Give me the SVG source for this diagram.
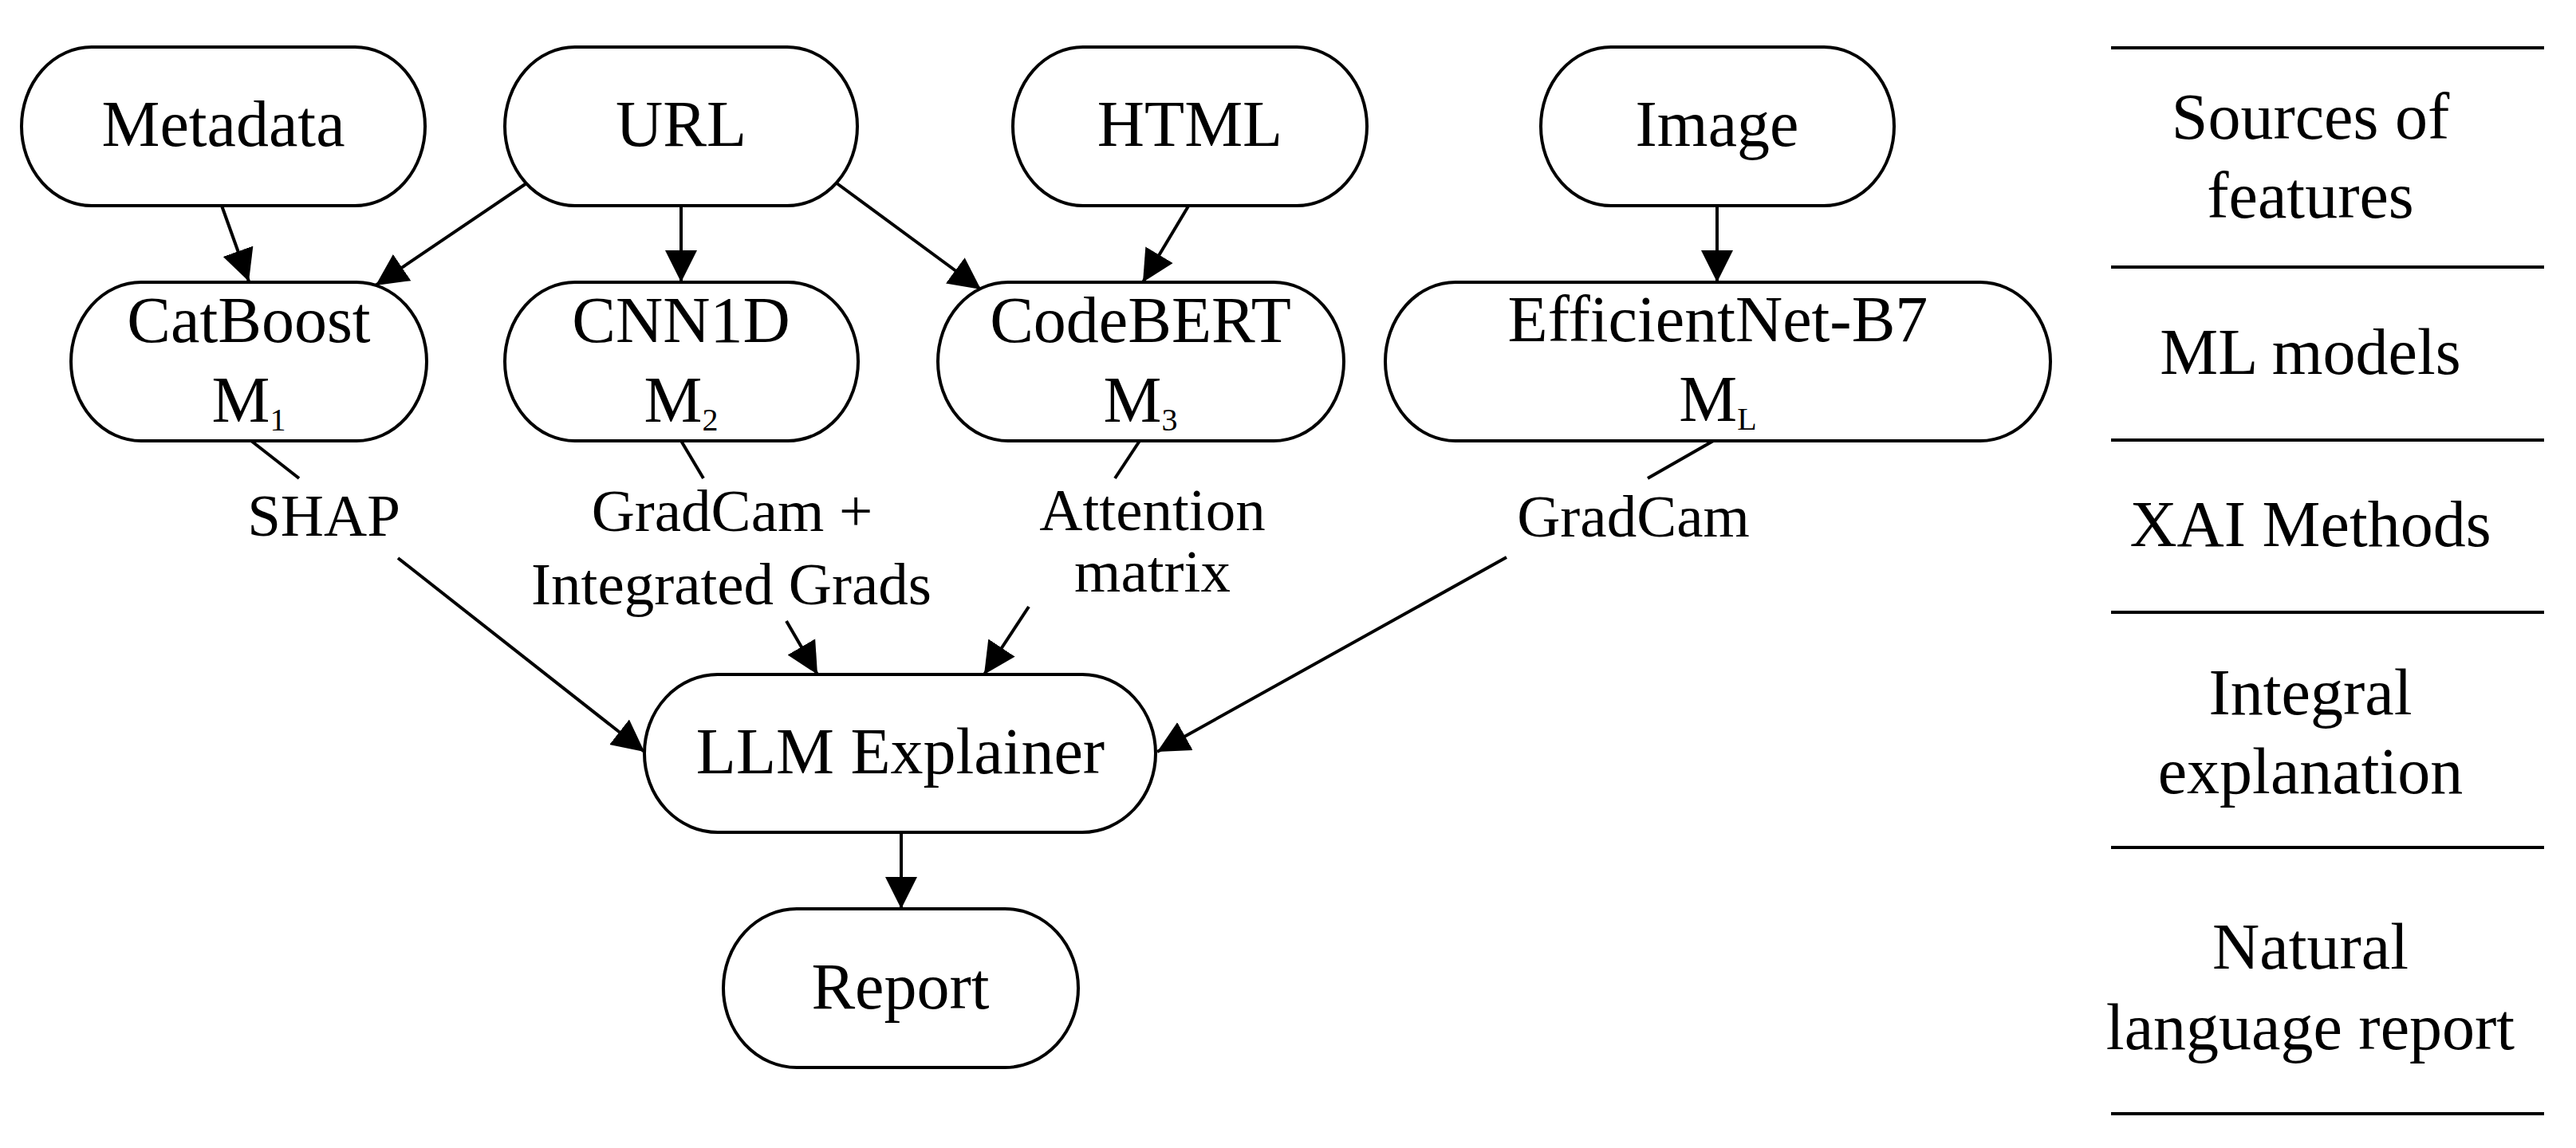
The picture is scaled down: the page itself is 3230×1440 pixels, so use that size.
<svg xmlns="http://www.w3.org/2000/svg" width="3230" height="1440" viewBox="0 0 3230 1440">
<style>
  .node { fill: #ffffff; stroke: #000000; stroke-width: 4; }
  .t { font-family: "Liberation Serif", "Times New Roman", serif; font-size: 82px; fill: #000000; text-anchor: middle; }
  .lbl { font-family: "Liberation Serif", "Times New Roman", serif; font-size: 75px; fill: #000000; text-anchor: middle; }
  .sub { font-size: 40px; }
  .edge { fill: none; stroke: #000000; stroke-width: 4; }
  .rule { stroke: #000000; stroke-width: 4; }
</style>
<defs>
  <marker id="arrow" markerUnits="userSpaceOnUse" markerWidth="44" markerHeight="44" refX="40" refY="20" orient="auto" viewBox="0 0 44 40">
    <path d="M0,0 L40,20 L0,40 z" fill="#000000"/>
  </marker>
</defs>
<rect x="0" y="0" width="3230" height="1440" fill="#ffffff"/>

<g id="connectors">
  <line class="edge" x1="278" y1="258" x2="312" y2="353" marker-end="url(#arrow)"/>
  <line class="edge" x1="660" y1="230" x2="471" y2="358" marker-end="url(#arrow)"/>
  <line class="edge" x1="854" y1="257" x2="854" y2="354" marker-end="url(#arrow)"/>
  <line class="edge" x1="1048" y1="229" x2="1230" y2="363" marker-end="url(#arrow)"/>
  <line class="edge" x1="1491" y1="257" x2="1433" y2="354" marker-end="url(#arrow)"/>
  <line class="edge" x1="2153" y1="257" x2="2153" y2="354" marker-end="url(#arrow)"/>
  <line class="edge" x1="315" y1="553" x2="375" y2="600"/>
  <line class="edge" x1="499" y1="700" x2="808" y2="943" marker-end="url(#arrow)"/>
  <line class="edge" x1="854" y1="553" x2="882" y2="600"/>
  <line class="edge" x1="986" y1="779" x2="1025" y2="846" marker-end="url(#arrow)"/>
  <line class="edge" x1="1429" y1="553" x2="1398" y2="600"/>
  <line class="edge" x1="1290" y1="761" x2="1234" y2="846" marker-end="url(#arrow)"/>
  <line class="edge" x1="2150" y1="552" x2="2066" y2="600"/>
  <line class="edge" x1="1889" y1="699" x2="1451" y2="943" marker-end="url(#arrow)"/>
  <line class="edge" x1="1130" y1="1044" x2="1130" y2="1140" marker-end="url(#arrow)"/>
  <text class="lbl" x="406" y="672">SHAP</text>
  <text class="lbl" x="918" y="666">GradCam +</text>
  <text class="lbl" x="917" y="758">Integrated Grads</text>
  <text class="lbl" x="1445" y="665">Attention</text>
  <text class="lbl" x="1445" y="742">matrix</text>
  <text class="lbl" x="2048" y="673">GradCam</text>
</g>

<g id="metadata">
  <rect class="node" x="27" y="59" width="506" height="199" rx="88" ry="99.5"/>
  <text class="t" x="280" y="183">Metadata</text>
</g>
<g id="url">
  <rect class="node" x="633" y="59" width="442" height="199" rx="88" ry="99.5"/>
  <text class="t" x="854" y="183">URL</text>
</g>
<g id="html">
  <rect class="node" x="1270" y="59" width="444" height="199" rx="88" ry="99.5"/>
  <text class="t" x="1492" y="183">HTML</text>
</g>
<g id="image">
  <rect class="node" x="1932" y="59" width="443" height="199" rx="88" ry="99.5"/>
  <text class="t" x="2153" y="183">Image</text>
</g>

<g id="catboost">
  <rect class="node" x="89" y="354" width="446" height="199" rx="88" ry="99.5"/>
  <text class="t" x="312" y="429">CatBoost</text>
  <text class="t" x="312" y="529">M<tspan class="sub" dy="11">1</tspan></text>
</g>
<g id="cnn1d">
  <rect class="node" x="633" y="354" width="443" height="199" rx="88" ry="99.5"/>
  <text class="t" x="854" y="429">CNN1D</text>
  <text class="t" x="854" y="529">M<tspan class="sub" dy="11">2</tspan></text>
</g>
<g id="codebert">
  <rect class="node" x="1176" y="354" width="509" height="199" rx="88" ry="99.5"/>
  <text class="t" x="1430" y="429">CodeBERT</text>
  <text class="t" x="1430" y="529">M<tspan class="sub" dy="11">3</tspan></text>
</g>
<g id="efficientnet">
  <rect class="node" x="1737" y="354" width="834" height="199" rx="88" ry="99.5"/>
  <text class="t" x="2154" y="428">EfficientNet-B7</text>
  <text class="t" x="2154" y="528">M<tspan class="sub" dy="11">L</tspan></text>
</g>

<g id="llm-explainer">
  <rect class="node" x="808" y="846" width="641" height="198" rx="92" ry="99"/>
  <text class="t" x="1129" y="970">LLM Explainer</text>
</g>
<g id="report">
  <rect class="node" x="907" y="1140" width="445" height="199" rx="92" ry="99.5"/>
  <text class="t" x="1129" y="1265">Report</text>
</g>

<g id="legend">
  <line class="rule" x1="2647" y1="60" x2="3190" y2="60"/>
  <line class="rule" x1="2647" y1="335" x2="3190" y2="335"/>
  <line class="rule" x1="2647" y1="552" x2="3190" y2="552"/>
  <line class="rule" x1="2647" y1="768" x2="3190" y2="768"/>
  <line class="rule" x1="2647" y1="1063" x2="3190" y2="1063"/>
  <line class="rule" x1="2647" y1="1397" x2="3190" y2="1397"/>
  <text class="t" x="2897" y="174">Sources of</text>
  <text class="t" x="2897" y="273">features</text>
  <text class="t" x="2897" y="469">ML models</text>
  <text class="t" x="2897" y="685">XAI Methods</text>
  <text class="t" x="2897" y="896">Integral</text>
  <text class="t" x="2897" y="995">explanation</text>
  <text class="t" x="2897" y="1215">Natural</text>
  <text class="t" x="2897" y="1316">language report</text>
</g>
</svg>
